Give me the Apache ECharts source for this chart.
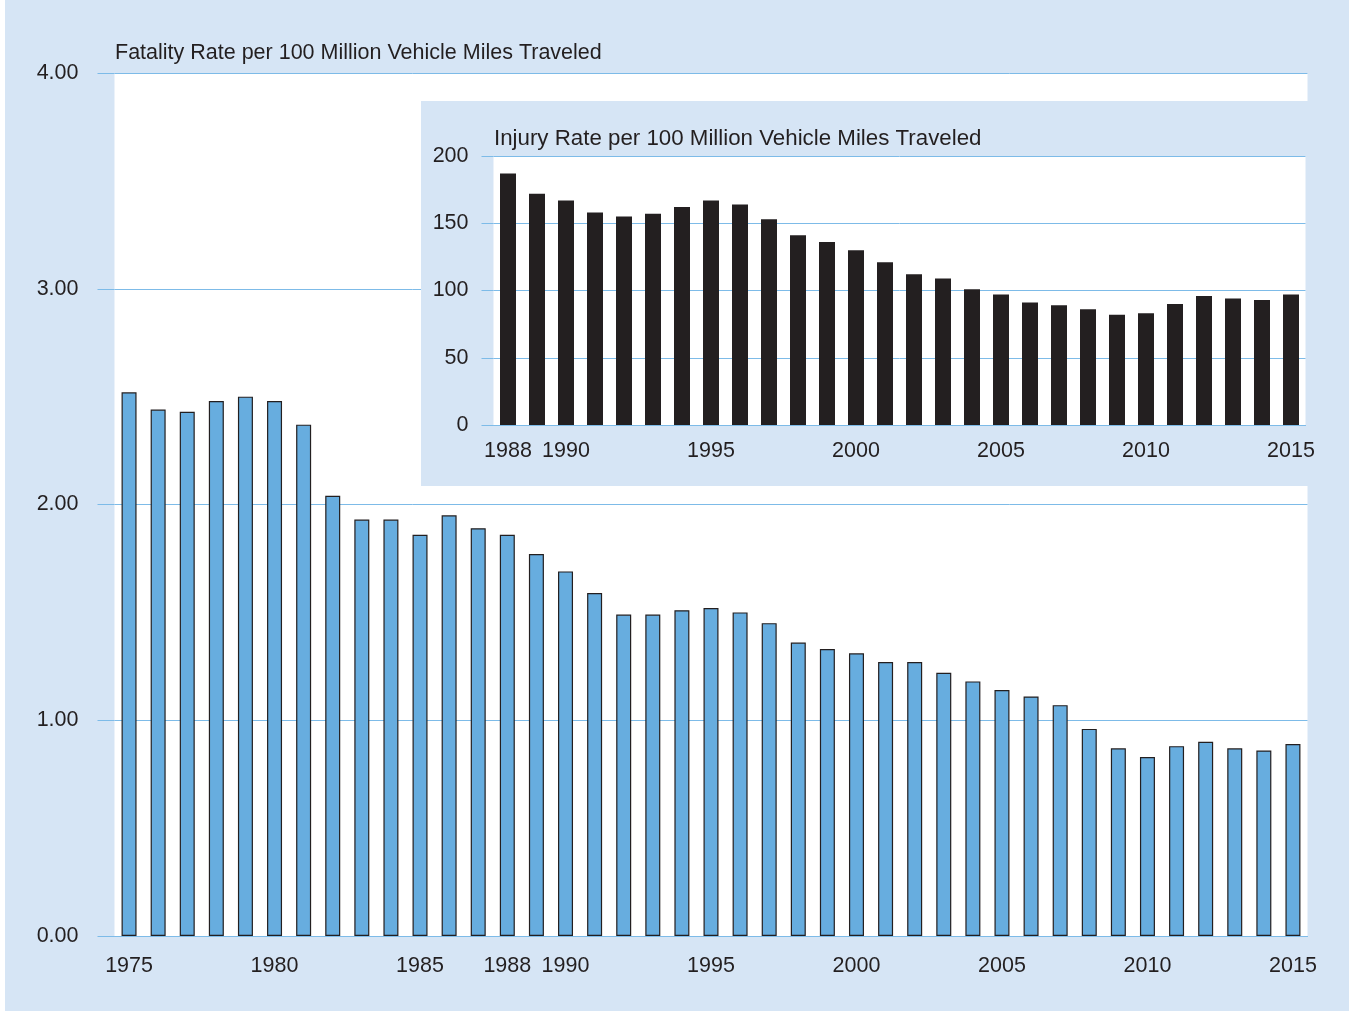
<!DOCTYPE html>
<html>
<head>
<meta charset="utf-8">
<script src="https://cdn.jsdelivr.net/npm/echarts@6/dist/echarts.min.js"></script>
<style>
  html, body { margin: 0; padding: 0; background: #fff; }
  #main { width: 1350px; height: 1012px; }
</style>
</head>
<body>
<div id="main"></div>
<script>
// fatality rate, 1975-2015
var fatalYears = [];
for (var y = 1975; y <= 2015; y++) fatalYears.push(String(y));
var fatalRate = [2.52, 2.44, 2.43, 2.48, 2.50, 2.48, 2.37, 2.04, 1.93, 1.93,
  1.86, 1.95, 1.89, 1.86, 1.77, 1.69, 1.59, 1.49, 1.49, 1.51,
  1.52, 1.50, 1.45, 1.36, 1.33, 1.31, 1.27, 1.27, 1.22, 1.18,
  1.14, 1.11, 1.07, 0.96, 0.87, 0.83, 0.88, 0.90, 0.87, 0.86, 0.89];
var fatalLabels = ['1975', '1980', '1985', '1988', '1990', '1995', '2000', '2005', '2010', '2015'];

// injury rate, 1988-2015
var injuryYears = fatalYears.slice(13);
var injuryRate = [187, 172, 167, 158, 155, 157, 162, 167, 164, 153,
  141, 136, 130, 121, 112, 109, 101, 97, 91, 89,
  86, 82, 83, 90, 96, 94, 93, 97];
var injuryLabels = ['1988', '1990', '1995', '2000', '2005', '2010', '2015'];

var fatalTicks = [0, 1, 2, 3, 4];
var injuryTicks = [0, 50, 100, 150, 200];

var txt = '#231f20';
var grid = '#7dbbe8';
var font = 'Liberation Sans, Arial, sans-serif';

var myChart = echarts.init(document.getElementById('main'));
var option = {
    animation: false,
    backgroundColor: '#fff',
    textStyle: { fontFamily: font },
    title: [
        { text: 'Fatality Rate per 100 Million Vehicle Miles Traveled', left: 110, top: 37,
          textStyle: { fontSize: 21.5, fontWeight: 'normal', color: txt, fontFamily: font } },
        { text: 'Injury Rate per 100 Million Vehicle Miles Traveled', left: 489, top: 123, z: 12,
          textStyle: { fontSize: 22.3, fontWeight: 'normal', color: txt, fontFamily: font } }
    ],
    graphic: [
        { type: 'rect', z: -10, silent: true, shape: { x: 5, y: 0, width: 1344, height: 1011 },
          style: { fill: '#d6e5f5' } },
        { type: 'rect', z: 8, silent: true, shape: { x: 421, y: 101, width: 887, height: 385 },
          style: { fill: '#d6e5f5' } }
    ],
    grid: [
        { left: 114.5, right: 42.5, top: 73, bottom: 76, show: true, backgroundColor: '#fff', borderWidth: 0, z: 0 },
        { left: 493.5, right: 44.5, top: 156, bottom: 587, show: true, backgroundColor: '#fff', borderWidth: 0, z: 10 }
    ],
    xAxis: [
        {
            type: 'category', gridIndex: 0, data: fatalYears,
            axisLine: { lineStyle: { color: grid } },
            axisTick: { show: false },
            axisLabel: {
                interval: function (i, v) { return fatalLabels.indexOf(v) >= 0; },
                margin: 19, fontSize: 21.5, color: txt, fontFamily: font
            }
        },
        {
            type: 'category', gridIndex: 1, data: injuryYears, z: 11,
            axisLine: { lineStyle: { color: grid } },
            axisTick: { show: false },
            axisLabel: {
                interval: function (i, v) { return injuryLabels.indexOf(v) >= 0; },
                margin: 15, fontSize: 21.5, color: txt, fontFamily: font
            }
        }
    ],
    yAxis: [
        {
            type: 'value', gridIndex: 0, min: fatalTicks[0], max: fatalTicks[fatalTicks.length - 1], interval: 1,
            axisLine: { show: false },
            axisTick: { show: true, length: 17, lineStyle: { color: grid } },
            splitLine: { lineStyle: { color: grid, width: 1 } },
            axisLabel: { margin: 36, fontSize: 21.5, color: txt, fontFamily: font, padding: [3, 0, 0, 0],
                formatter: function (v) { return v.toFixed(2); } }
        },
        {
            type: 'value', gridIndex: 1, min: injuryTicks[0], max: injuryTicks[injuryTicks.length - 1], interval: 50, z: 11,
            axisLine: { show: false },
            axisTick: { show: true, length: 12, lineStyle: { color: grid } },
            splitLine: { lineStyle: { color: grid, width: 1 } },
            axisLabel: { margin: 25, fontSize: 21.5, color: txt, fontFamily: font, padding: [3, 0, 0, 0] }
        }
    ],
    series: [
        {
            name: 'Fatality Rate', type: 'bar', xAxisIndex: 0, yAxisIndex: 0,
            data: fatalRate, barWidth: 15,
            itemStyle: { color: '#67addf', borderColor: '#231f20', borderWidth: 1.2 }
        },
        {
            name: 'Injury Rate', type: 'bar', xAxisIndex: 1, yAxisIndex: 1, z: 12,
            data: injuryRate, barWidth: 16,
            itemStyle: { color: '#231f20' }
        }
    ]
};
myChart.setOption(option);
</script>
</body>
</html>
